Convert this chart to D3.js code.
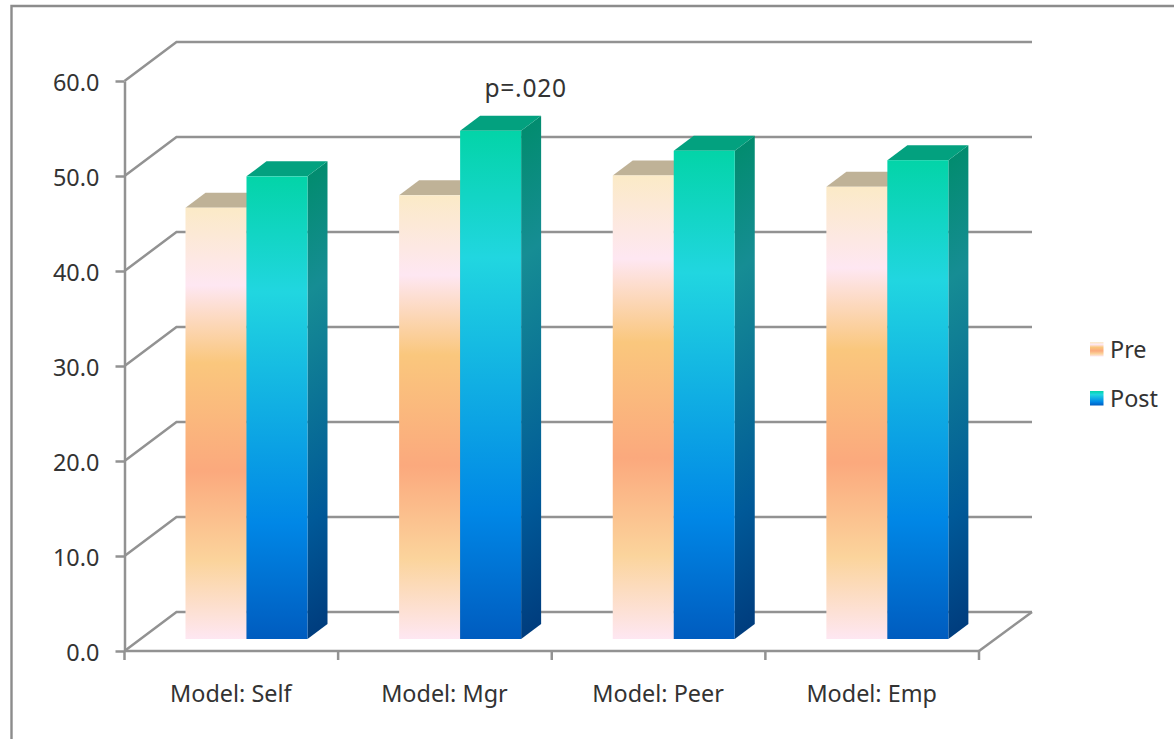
<!DOCTYPE html>
<html>
<head>
<meta charset="utf-8">
<title>Model ratings, pre and post</title>
<script src="https://cdn.jsdelivr.net/npm/d3@7"></script>
<style>
  html, body { margin: 0; padding: 0; background: #fff; }
  svg { display: block; }
  text { font-family: "Noto Sans", sans-serif; font-size: 23.4px; fill: #333; }
</style>
</head>
<body>
<svg id="chart" width="1174" height="739"></svg>
<script>
const categories = ["Model: Self", "Model: Mgr", "Model: Peer", "Model: Emp"];
const seriesNames = ["Pre", "Post"];
const preValues = [45.4, 46.7, 48.8, 47.6];
const postValues = [48.7, 53.5, 51.4, 50.4];
const yTicks = [0, 10, 20, 30, 40, 50, 60];
const annotation = { category: "Model: Mgr", text: "p=.020" };

const peachStops = [[0, "#fbeac7"], [0.18, "#fee7f2"], [0.36, "#fac77d"], [0.61, "#fba97d"], [0.82, "#fbd49c"], [1, "#fee7f2"]];
const oceanStops = [[0, "#03d4a8"], [0.25, "#21d6e0"], [0.75, "#0087e6"], [1, "#005cbf"]];
const GRID = "#929292";
const GRID_WIDTH = 2.5;

const svg = d3.select("#chart");
const defs = svg.append("defs");

// Oblique projection of the chart box: the floor and walls recede up and to the right.
const box = { left: 124.5, right: 979, front0: 651, front60: 81, dx: 52, dy: -39 };
const barDepth = { dx: 20, dy: -15 };

const yFront = d3.scaleLinear().domain([0, 60]).range([box.front0, box.front60]);
const yBar = d3.scaleLinear().domain([0, 60]).range([639, 69]);
const x0 = d3.scaleBand().domain(categories).range([box.left, box.right]);
const barWidth = 61;
const barInset = 61;

// Gradient definitions: a plain one for fronts, darker variants for the side faces.
function addGradient(id, stops, shade) {
  const g = defs.append("linearGradient").attr("id", id)
    .attr("x1", 0).attr("y1", 0).attr("x2", 0).attr("y2", 1);
  g.selectAll("stop").data(stops).join("stop")
    .attr("offset", d => d[0])
    .attr("stop-color", d => {
      const c = d3.rgb(d[1]);
      return d3.rgb(c.r * shade, c.g * shade, c.b * shade).formatHex();
    });
}
addGradient("pre-front", peachStops, 1);
addGradient("pre-side", peachStops, 0.66);
addGradient("post-front", oceanStops, 1);
addGradient("post-side", oceanStops, 0.66);

// Frame around the chart area.
svg.append("path")
  .attr("d", "M1174,6H11.5V739")
  .attr("fill", "none").attr("stroke", "#8c8c8c").attr("stroke-width", 2.4);

// Gridlines on the back wall, with their returns along the left wall.
const grid = svg.append("g").attr("fill", "none").attr("stroke", GRID).attr("stroke-width", GRID_WIDTH);
grid.selectAll("path.grid").data(yTicks).join("path")
  .attr("class", "grid")
  .attr("d", d => {
    const y = yFront(d);
    return `M${box.left},${y}L${box.left + box.dx},${y + box.dy}H${box.right + box.dx + 1}`;
  });
// Right edge of the floor.
grid.append("path")
  .attr("d", `M${box.right},${box.front0}L${box.right + box.dx + 1},${box.front0 + box.dy}`);

// Value axis.
const yAxis = svg.append("g")
  .attr("transform", `translate(${box.left},0)`)
  .call(d3.axisLeft(yFront).tickValues(yTicks).tickFormat(d3.format(".1f")).tickSize(9).tickSizeOuter(0));
yAxis.selectAll("path, line").attr("stroke", GRID).attr("stroke-width", GRID_WIDTH);
yAxis.selectAll("text")
  .attr("x", -25.2).attr("dy", "0.42em")
  .style("font-size", "23.4px").style("font-family", '"Noto Sans", sans-serif');

// Category axis: ticks sit on the band boundaries, labels in the band centres.
const xAxis = svg.append("g");
const boundaries = categories.map(c => x0(c)).concat([box.right]);
xAxis.append("line")
  .attr("x1", box.left).attr("x2", box.right)
  .attr("y1", box.front0).attr("y2", box.front0)
  .attr("stroke", GRID).attr("stroke-width", GRID_WIDTH);
xAxis.selectAll("line.tick").data(boundaries).join("line")
  .attr("class", "tick")
  .attr("x1", d => d).attr("x2", d => d)
  .attr("y1", box.front0).attr("y2", box.front0 + 9)
  .attr("stroke", GRID).attr("stroke-width", GRID_WIDTH);
xAxis.selectAll("text").data(categories).join("text")
  .attr("x", d => x0(d) + x0.bandwidth() / 2 - 0.5)
  .attr("y", 702)
  .attr("text-anchor", "middle")
  .text(d => d);

// Bars: side face, top face, then front face; Pre first so Post sits in front of it.
const series = [
  { key: "pre", values: preValues, top: "#bfb297" },
  { key: "post", values: postValues, top: "#03a17f" }
];
const slope = barDepth.dy / barDepth.dx;
series.forEach((s, si) => {
  const g = svg.append("g").attr("class", "series-" + s.key);
  const rows = categories.map((c, i) => ({
    x: x0(c) + barInset + si * barWidth,
    top: yBar(s.values[i]),
    base: yBar(0)
  }));
  g.selectAll("rect.side").data(rows).join("rect")
    .attr("class", "side")
    .attr("x", 0).attr("y", d => d.top)
    .attr("width", barDepth.dx).attr("height", d => d.base - d.top)
    .attr("transform", d => `matrix(1,${slope},0,1,${d.x + barWidth},${0})`)
    .attr("fill", `url(#${s.key}-side)`);
  g.selectAll("path.top").data(rows).join("path")
    .attr("class", "top")
    .attr("d", d => `M${d.x},${d.top}l${barDepth.dx},${barDepth.dy}h${barWidth}l${-barDepth.dx},${-barDepth.dy}z`)
    .attr("fill", s.top);
  g.selectAll("rect.front").data(rows).join("rect")
    .attr("class", "front")
    .attr("x", d => d.x).attr("y", d => d.top)
    .attr("width", barWidth).attr("height", d => d.base - d.top)
    .attr("fill", `url(#${s.key}-front)`);
});

// Significance note above the Mgr post bar.
svg.append("text")
  .attr("x", x0(annotation.category) + barInset + 2 * barWidth + 4.5)
  .attr("y", 97)
  .attr("text-anchor", "middle")
  .style("font-size", "24.6px")
  .style("letter-spacing", "0.7px")
  .text(annotation.text);

// Legend.
const legendRows = [
  { name: seriesNames[0], key: "pre", y: 342 },
  { name: seriesNames[1], key: "post", y: 391 }
];
const legend = svg.append("g");
legend.selectAll("rect").data(legendRows).join("rect")
  .attr("x", 1090).attr("y", d => d.y)
  .attr("width", 13.5).attr("height", 14.5)
  .attr("fill", d => `url(#${d.key}-front)`);
legend.selectAll("text").data(legendRows).join("text")
  .attr("x", 1110).attr("y", d => d.y + 15.5)
  .text(d => d.name);
</script>
</body>
</html>
